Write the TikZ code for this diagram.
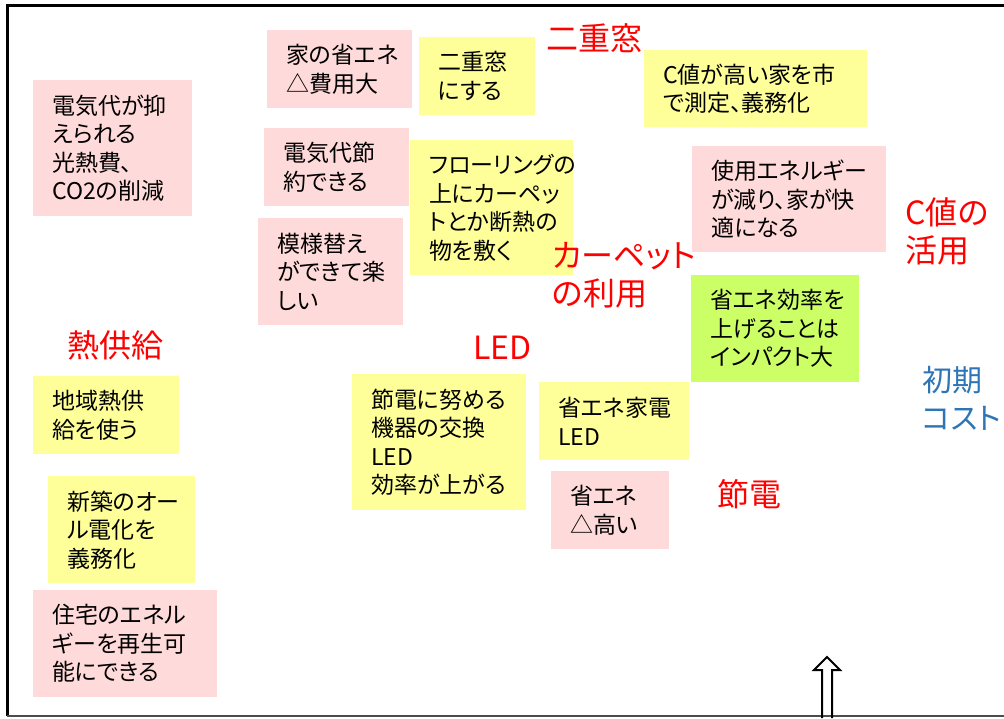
\documentclass[tikz,border=0pt]{standalone}
\usepackage{fontspec}
\setmainfont{Noto Sans CJK JP}[RawFeature=+palt]
\definecolor{notepink}{RGB}{255,218,218}
\definecolor{noteyel}{RGB}{255,255,153}
\definecolor{notegrn}{RGB}{204,255,102}
\definecolor{costblue}{RGB}{46,117,182}
\begin{document}
\begin{tikzpicture}[x=1pt,y=-1pt]
  \tikzset{ note/.style={anchor=north west,inner xsep=19pt,inner ysep=0pt,align=left,
      font=\fontsize{23}{28.5}\selectfont},
    pnote/.style={note,fill=notepink},
    ynote/.style={note,fill=noteyel},
    gnote/.style={note,fill=notegrn},
    redtxt/.style={anchor=west,inner sep=0pt,align=left,red,font=\fontsize{32}{38}\selectfont},
    bluetxt/.style={redtxt,costblue,font=\fontsize{30}{38}\selectfont},
  }
  \useasboundingbox (0,0) rectangle (1004,718);

  % the frame and the arrow
  \draw[line width=3pt] (1004,5) -- (7,5) -- (7,716);
  \draw[line width=1.5pt,black!70] (7,716) -- (1004,716);
  \draw[line width=2pt] (822,718) -- (822,670) -- (814,670) -- (827,657)
    -- (840,670) -- (832,670) -- (832,718);

  % the notes
  \node[pnote,text width=121pt,minimum height=136pt] (bill)   at (33, 80)   {電気代が抑\\えられる\\光熱費、\\CO2の削減};
  \node[pnote,text width=107pt,minimum height=78pt]  (cost)   at (267, 30)  {家の省エネ\\△費用大};
  \node[ynote,text width=78pt, minimum height=78pt]  (window) at (419, 37)  {二重窓\\にする};
  \node[ynote,text width=185pt,minimum height=77pt]  (cval)   at (644, 50)  {C値が高い家を市\\で測定、義務化};
  \node[pnote,text width=107pt,minimum height=78pt]  (saving) at (264, 128) {電気代節\\約できる};
  \node[ynote,text width=125pt,minimum height=135pt] (floor)  at (410, 140) {フローリングの\\上にカーペッ\\トとか断熱の\\物を敷く};
  \node[pnote,text width=156pt,minimum height=106pt] (comfy)  at (692, 146) {使用エネルギー\\が減り、家が快\\適になる};
  \node[pnote,text width=107pt,minimum height=107pt] (decor)  at (258, 218) {模様替え\\ができて楽\\しい};
  \node[gnote,text width=130pt,minimum height=107pt] (impact) at (691, 275) {省エネ効率を\\上げることは\\インパクト大};
  \node[ynote,text width=108pt,minimum height=78pt]  (local)  at (33, 376)  {地域熱供\\給を使う};
  \node[ynote,text width=136pt,minimum height=136pt] (swap)   at (352, 374) {節電に努める\\機器の交換\\LED\\効率が上がる};
  \node[ynote,text width=112pt,minimum height=78pt]  (appl)   at (539, 382) {省エネ家電\\LED};
  \node[pnote,text width=80pt, minimum height=78pt]  (high)   at (551, 471) {省エネ\\△高い};
  \node[ynote,text width=109pt,minimum height=107pt] (allel)  at (48, 476)  {新築のオー\\ル電化を\\義務化};
  \node[pnote,text width=146pt,minimum height=107pt] (renew)  at (33, 590)  {住宅のエネル\\ギーを再生可\\能にできる};

  % the headings
  \node[redtxt]  (t1) at (546, 38)  {二重窓};
  \node[redtxt]  (t2) at (905, 231) {C値の\\活用};
  \node[redtxt]  (t3) at (552, 275) {カーペット\\の利用};
  \node[redtxt]  (t4) at (67, 345)  {熱供給};
  \node[redtxt]  (t5) at (473, 348) {LED};
  \node[bluetxt] (t6) at (922, 398) {初期\\コスト};
  \node[redtxt]  (t7) at (717, 494) {節電};
\end{tikzpicture}
\end{document}
